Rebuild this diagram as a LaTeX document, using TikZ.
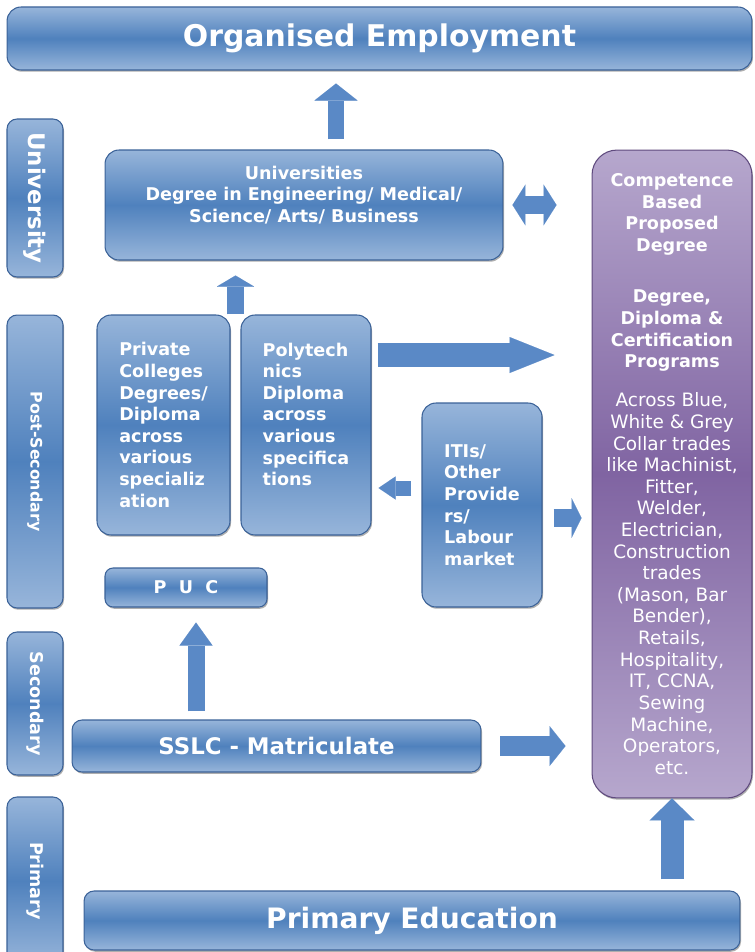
\documentclass[tikz,border=0pt]{standalone}
\usepackage{fontspec}
\setmainfont{DejaVu Sans}
\usetikzlibrary{arrows.meta,calc,shadows}
\definecolor{BoxTop}{HTML}{97B5DA}
\definecolor{BoxMid}{HTML}{4F81BD}
\definecolor{BoxEdge}{HTML}{3B6298}
\definecolor{PurpleTop}{HTML}{B6A7CD}
\definecolor{PurpleMid}{HTML}{8064A2}
\definecolor{PurpleEdge}{HTML}{5F4A7E}
\definecolor{ArrowBlue}{HTML}{5A89C6}
\newcommand{\hd}[1]{{\bfseries\fontsize{10}{12.3}\selectfont #1}}

\begin{document}
\begin{tikzpicture}[x=0.02cm, y=-0.02cm,
  every node/.style={text=white, font=\bfseries\fontsize{10}{12.3}\selectfont},
  bluebox/.style={draw=BoxEdge, line width=.6pt, rounded corners=.28cm, top color=BoxTop, bottom color=BoxTop, middle color=BoxMid, drop shadow={shadow xshift=.6pt, shadow yshift=-1pt, fill=black!70, opacity=.45}, inner sep=2pt},
  sidebox/.style={bluebox, rotate=-90, rounded corners=.2cm, minimum height=1.12cm},
  purplebox/.style={draw=PurpleEdge, line width=.6pt, rounded corners=.5cm, top color=PurpleTop, bottom color=PurpleTop, middle color=PurpleMid, drop shadow={shadow xshift=.6pt, shadow yshift=-1pt, fill=black!70, opacity=.45}, align=center, font=\fontsize{10.5}{12.3}\selectfont},
  blockarrow/.style={color=ArrowBlue, line width=#1}]
\useasboundingbox (0,0) rectangle (754,952);

% levels on the left
\node[sidebox, minimum width=3.16cm, font=\bfseries\fontsize{13}{15}\selectfont] (univside) at (35,198) {University};
\node[sidebox, minimum width=5.86cm, font=\bfseries\fontsize{9}{11}\selectfont] (postside) at (35,461.5) {Post-Secondary};
\node[sidebox, minimum width=2.86cm] (secside) at (35,703.5) {Secondary};
\node[sidebox, minimum width=3.36cm] (primside) at (35,881) {Primary};

% main boxes
\node[bluebox, minimum width=14.9cm, minimum height=1.26cm, font=\bfseries\fontsize{17}{20}\selectfont] (org) at (379.5,38.5) {Organised Employment};
\node[bluebox, minimum width=7.96cm, minimum height=2.2cm, align=center] (univ) at (304,205) {Universities\\Degree in Engineering/ Medical/\\Science/ Arts/ Business\\\mbox{}};
\node[bluebox, minimum width=2.66cm, minimum height=4.4cm, align=left] (priv) at (163.5,425) {Private\\Colleges\\Degrees/\\Diploma\\across\\various\\specializ\\ation};
\node[bluebox, minimum width=2.6cm, minimum height=4.4cm, align=left] (poly) at (306,425) {Polytech\\nics\\Diploma\\across\\various\\specifica\\tions\\\mbox{}};
\node[bluebox, minimum width=2.4cm, minimum height=4.08cm, align=left] (itis) at (482,505) {ITIs/\\Other\\Provide\\rs/\\Labour\\market};
\node[bluebox, minimum width=3.24cm, minimum height=.78cm, rounded corners=.16cm] (puc) at (186,587.5) {P\hspace{.7em}U\hspace{.7em}C};
\node[bluebox, minimum width=8.18cm, minimum height=1.04cm, rounded corners=.2cm, font=\bfseries\fontsize{13}{15}\selectfont] (sslc) at (276.5,746) {SSLC - Matriculate};
\node[bluebox, minimum width=13.12cm, minimum height=1.18cm, rounded corners=.2cm, font=\bfseries\fontsize{16}{19}\selectfont] (prim) at (412,920.5) {Primary Education};
\node[purplebox, minimum width=3.2cm, minimum height=12.96cm] (comp) at (672,474) {\hd{Competence}\\\hd{Based}\\\hd{Proposed}\\\hd{Degree}\\[17pt]\hd{Degree,}\\\hd{Diploma \&}\\\hd{Certification}\\\hd{Programs}\\[10pt]Across Blue,\\White \& Grey\\Collar trades\\like Machinist,\\Fitter,\\Welder,\\Electrician,\\Construction\\trades\\(Mason, Bar\\Bender),\\Retails,\\Hospitality,\\IT, CCNA,\\Sewing\\Machine,\\Operators,\\etc.};

% block arrows
\coordinate (u1) at ([xshift=.64cm]univ.north);
\coordinate (pp) at ($(priv.north east)!.5!(poly.north west)$);
\coordinate (p1) at ([yshift=1.4cm]poly.east);
\coordinate (i1) at ([yshift=.34cm]itis.west);
\coordinate (i2) at ([yshift=-.26cm]itis.east);
\coordinate (s1) at ([xshift=.2cm]puc.south);
\draw[blockarrow=.34cm, -{Triangle[width=.86cm, length=.34cm, line width=.01pt]}, shorten <=.2cm, shorten >=.26cm] (u1) -- (u1 |- org.south);
\draw[blockarrow=.34cm, -{Triangle[width=.74cm, length=.22cm, line width=.01pt]}, shorten >=.3cm] (pp) -- (pp |- univ.south);
\draw[blockarrow=.36cm, {Triangle[width=.82cm, length=.26cm, line width=.01pt]}-{Triangle[width=.82cm, length=.26cm, line width=.01pt]}, shorten <=.18cm, shorten >=.7cm] (univ.east) -- (univ.east -| comp.west);
\draw[blockarrow=.48cm, -{Triangle[width=.72cm, length=.9cm, line width=.01pt]}, shorten <=.12cm, shorten >=.74cm] (p1) -- (p1 -| comp.west);
\draw[blockarrow=.3cm, -{Triangle[width=.46cm, length=.34cm, line width=.01pt]}, shorten <=.2cm, shorten >=.14cm] (i1) -- (i1 -| poly.east);
\draw[blockarrow=.38cm, -{Triangle[width=.8cm, length=.2cm, line width=.01pt]}, shorten <=.22cm, shorten >=.2cm] (i2) -- (i2 -| comp.west);
\draw[blockarrow=.34cm, -{Triangle[width=.66cm, length=.46cm, line width=.01pt]}, shorten <=.16cm, shorten >=.3cm] (s1 |- sslc.north) -- (s1);
\draw[blockarrow=.4cm, -{Triangle[width=.8cm, length=.32cm, line width=.01pt]}, shorten <=.38cm, shorten >=.52cm] (sslc.east) -- (sslc.east -| comp.west);
\draw[blockarrow=.46cm, -{Triangle[width=.9cm, length=.44cm, line width=.01pt]}, shorten <=.22cm] (comp.south |- prim.north) -- (comp.south);
\end{tikzpicture}
\end{document}
